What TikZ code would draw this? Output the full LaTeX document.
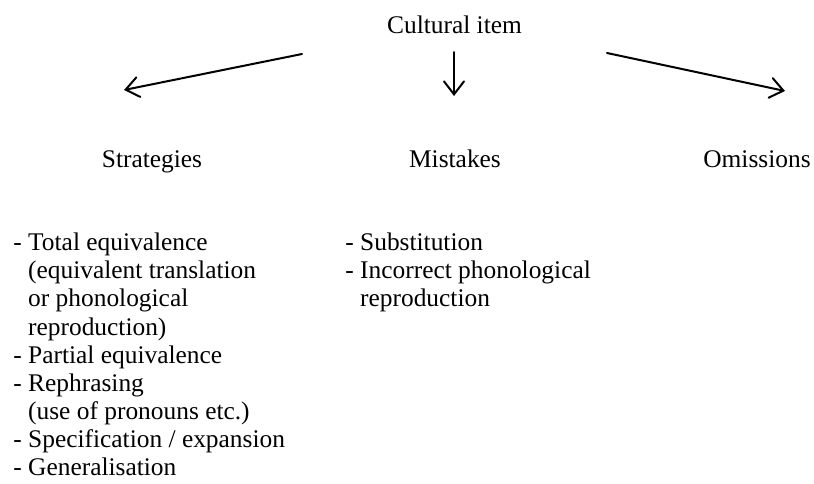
\documentclass[tikz,border=0pt]{standalone}
\usepackage{fontspec}
\setmainfont{Liberation Serif}
\usetikzlibrary{arrows.meta}
\newcommand{\hang}{\hspace*{7.4pt}}
\tikzset{
  label text/.style={anchor=base, inner sep=0pt, font=\fontsize{12.7}{14.05}\selectfont},
  list text/.style={anchor=north west, inner sep=0pt, align=left, font=\fontsize{12.7}{14.05}\selectfont},
  branch/.style={line width=1pt, line cap=round, line join=round, -{Straight Barb[length=6.5pt,width=10pt,line cap=round]}}
}
\begin{document}
\begin{tikzpicture}[x=0.5pt, y=-0.5pt]
% Canvas in pixels of the reference
\useasboundingbox (0,0) rectangle (814,483);

% Top item and the three headings
\node[label text] (item) at (454.5,33) {Cultural item};
\node[label text] (strat) at (152,167) {Strategies};
\node[label text] (mist) at (455,167) {Mistakes};
\node[label text] (omis) at (757,167) {Omissions};

% Arrow ends
\coordinate (lstart) at (302,54);
\coordinate (lend) at (124,90);
\coordinate (mstart) at (454,52);
\coordinate (mend) at (454,96);
\coordinate (rstart) at (607,53);
\coordinate (rend) at (785,91);
\draw[branch] (lstart) -- (lend);
\draw[branch] (mstart) -- (mend);
\draw[branch] (rstart) -- (rend);

% Lists under the headings (top of first line)
\node[list text] (stratlist) at (13,232.7) {- Total equivalence\\
\hang(equivalent translation\\
\hang or phonological\\
\hang reproduction)\\
- Partial equivalence\\
- Rephrasing\\
\hang(use of pronouns etc.)\\
- Specification / expansion\\
- Generalisation};
\node[list text] (mistlist) at (345,232.7) {- Substitution\\
- Incorrect phonological\\
\hang reproduction};
\end{tikzpicture}
\end{document}
